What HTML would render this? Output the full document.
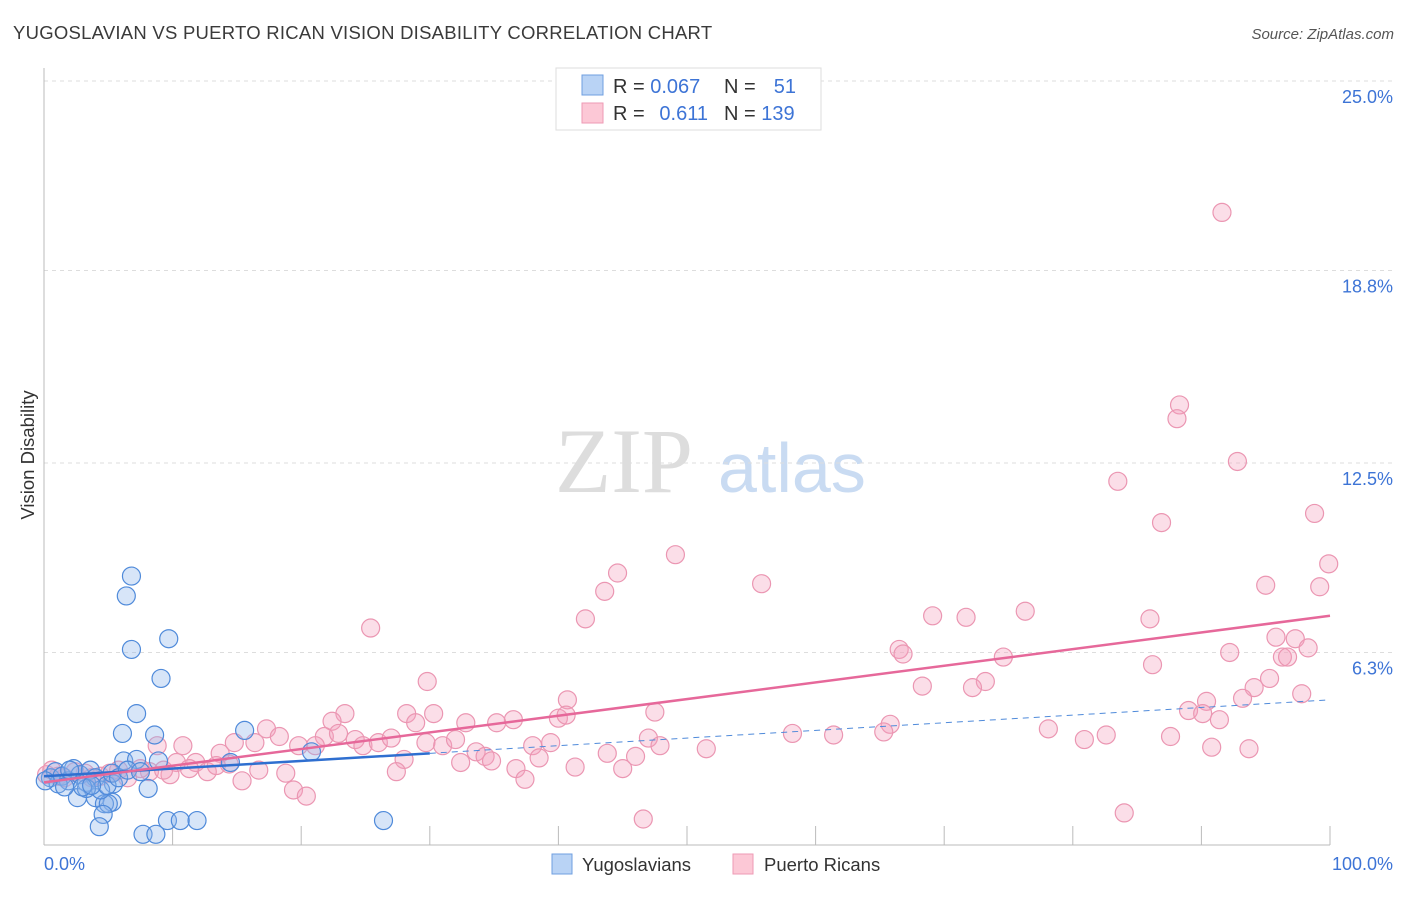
<!DOCTYPE html>
<html><head><meta charset="utf-8"><style>
body{margin:0;background:#fff;font-family:"Liberation Sans",sans-serif}
</style></head><body>
<svg id="chart" width="1406" height="892" xmlns="http://www.w3.org/2000/svg" font-family="Liberation Sans, sans-serif">
<text x="13" y="39" font-size="18.5" fill="#3a3a3a" letter-spacing="0.25">YUGOSLAVIAN VS PUERTO RICAN VISION DISABILITY CORRELATION CHART</text>
<text x="1394" y="39" font-size="15" fill="#555" font-style="italic" text-anchor="end">Source: ZipAtlas.com</text>
<text x="555" y="492" font-size="92" fill="#ddd" font-family="Liberation Serif, serif">ZIP</text>
<text x="718" y="492" font-size="70" fill="#c9dbf2">atlas</text>
<text transform="translate(34,455) rotate(-90)" font-size="18.5" fill="#333" text-anchor="middle">Vision Disability</text>
<g id="grid"></g><g id="pts"></g><g id="lines"></g>
<g>
<rect x="556" y="68" width="265" height="62" fill="#fff" stroke="#ddd"/>
<rect x="582" y="75" width="21" height="20" fill="#b9d3f5" stroke="#6f9fe0"/>
<rect x="582" y="103" width="21" height="20" fill="#fcc8d6" stroke="#ee9ab4"/>
<text x="613" y="93" font-size="20" fill="#333">R = <tspan fill="#3d74d6">0.067</tspan></text>
<text x="724" y="93" font-size="20" fill="#333">N = </text><text x="796" y="93" font-size="20" fill="#3d74d6" text-anchor="end">51</text>
<text x="613" y="120" font-size="20" fill="#333">R = </text><text x="708" y="120" font-size="20" fill="#3d74d6" text-anchor="end">0.611</text>
<text x="724" y="120" font-size="20" fill="#333">N = <tspan fill="#3d74d6">139</tspan></text>
</g>
<g>
<rect x="552" y="854" width="20" height="20" fill="#b9d3f5" stroke="#6f9fe0"/>
<text x="582" y="871" font-size="18.5" fill="#333">Yugoslavians</text>
<rect x="733" y="854" width="20" height="20" fill="#fcc8d6" stroke="#ee9ab4"/>
<text x="764" y="871" font-size="18.5" fill="#333">Puerto Ricans</text>
</g>
</svg>
<script>
const yTicks=[25,18.8,12.5,6.3];
const yTickLabels=["25.0%","18.8%","12.5%","6.3%"];
const xTicks=[0,10,20,30,40,50,60,70,80,90,100];
const blueX=[6.8,6.4,6.8,9.7,9.1,7.2,6.1,8.6,15.6,6.2,7.2,8.9,14.5,20.8,8.1,5.4,4.0,2.6,5.3,4.7,5.0,4.6,4.3,7.7,8.7,9.6,10.6,11.9,26.4,0.5,0.9,1.4,1.9,2.3,2.8,3.3,3.6,4.0,4.4,4.9,5.3,5.8,6.5,1.1,1.6,3.3,7.5,0.1,3.0,2.0,3.7];
const blueY=[8.8,8.15,6.4,6.75,5.45,4.3,3.65,3.6,3.75,2.75,2.8,2.75,2.7,3.05,1.85,2.0,1.55,1.55,1.4,1.35,1.35,1.0,0.6,0.35,0.35,0.8,0.8,0.8,0.8,2.2,2.4,2.25,2.1,2.5,2.3,2.05,2.45,2.2,1.8,1.95,2.35,2.2,2.45,2.0,1.9,1.85,2.4,2.1,1.9,2.45,1.95];
const pinkX=[91.6,88.3,88.1,92.8,83.5,86.9,98.8,99.9,49.1,44.6,43.6,55.8,95,99.2,42.1,69.1,71.7,76.3,86,95.8,97.3,98.3,92.2,96.3,96.7,66.5,66.8,74.6,86.2,25.4,29.8,73.2,95.3,68.3,72.2,94.1,40.7,90.4,93.2,97.8,89,90.1,91.4,47.5,23.4,28.2,30.3,40,40.6,22.4,28.9,32.8,36.5,35.2,17.3,65.8,65.3,78.1,82.6,80.9,87.6,58.2,61.4,18.3,21.8,22.9,24.2,24.8,26,27,19.8,21.1,16.4,14.8,13.7,8.8,10.8,29.7,31,32,33.6,34.3,38,39.4,47,47.9,51.5,43.8,46,90.8,93.7,28,32.4,34.8,36.7,38.5,41.3,45,27.4,37.4,15.4,18.8,16.7,19.4,20.4,46.6,84,10.3,11.8,12.7,11.3,9.8,8.2,6.5,4.4,3.2,1.6,0.6,0.2,5.1,7.5,9.3,14.4,13.4,2.4,3.7,5.8,1.1];
const pinkY=[20.7,14.4,13.95,12.55,11.9,10.55,10.85,9.2,9.5,8.9,8.3,8.55,8.5,8.45,7.4,7.5,7.45,7.65,7.4,6.8,6.75,6.45,6.3,6.15,6.15,6.4,6.25,6.15,5.9,7.1,5.35,5.35,5.45,5.2,5.15,5.15,4.75,4.7,4.8,4.95,4.4,4.3,4.1,4.35,4.3,4.3,4.3,4.15,4.25,4.05,4.0,4.0,4.1,4.0,3.8,3.95,3.7,3.8,3.6,3.45,3.55,3.65,3.6,3.55,3.55,3.65,3.45,3.25,3.35,3.5,3.25,3.25,3.35,3.35,3.0,3.25,3.25,3.35,3.25,3.45,3.05,2.9,3.25,3.35,3.5,3.25,3.15,3.0,2.9,3.2,3.15,2.8,2.7,2.75,2.5,2.85,2.55,2.5,2.4,2.15,2.1,2.35,2.45,1.8,1.6,0.85,1.05,2.7,2.7,2.4,2.5,2.3,2.4,2.2,2.25,2.35,2.2,2.45,2.3,2.35,2.5,2.45,2.65,2.6,2.4,2.2,2.45,2.25];
const blueTrend=[2.25,0.025];
const pinkTrend=[2.05,0.0545];
const X=v=>44+v*12.86, Y=v=>845-v*30.56;
const NS="http://www.w3.org/2000/svg";
function mk(tag,attrs,parent){const e=document.createElementNS(NS,tag);for(const k in attrs)e.setAttribute(k,attrs[k]);parent.appendChild(e);return e;}
const grid=document.getElementById('grid');
yTicks.forEach((t,i)=>{
 const l=mk('line',{x1:44,x2:1393,y1:Y(t),y2:Y(t),stroke:'#ddd','stroke-dasharray':'4,4'},grid);
 
 
 const tx=mk('text',{x:1393,y:Y(t)+22,'font-size':18,fill:'#3d74d6','text-anchor':'end'},grid);
 tx.textContent=yTickLabels[i];
 
 
});
const ax=mk('line',{x1:44,x2:44,y1:68,y2:845,stroke:'#bbb'},grid);


const bx=mk('line',{x1:44,x2:1330,y1:845,y2:845,stroke:'#bbb'},grid);


xTicks.forEach(t=>{
 const l=mk('line',{x1:X(t),x2:X(t),y1:826,y2:845,stroke:'#bbb'},grid);
 
 
});
const x0=mk('text',{x:44,y:870,'font-size':18,fill:'#3d74d6'},grid);x0.textContent='0.0%';


const x1=mk('text',{x:1393,y:870,'font-size':18,fill:'#3d74d6','text-anchor':'end'},grid);x1.textContent='100.0%';


const pts=document.getElementById('pts');
pinkX.forEach((x,i)=>{
 const c=mk('circle',{cx:X(x),cy:Y(pinkY[i]),r:9,fill:'rgba(244,160,188,0.35)',stroke:'#eb96b2','stroke-width':1.2},pts);
 
 
});
blueX.forEach((x,i)=>{
 const c=mk('circle',{cx:X(x),cy:Y(blueY[i]),r:9,fill:'rgba(140,180,235,0.35)',stroke:'#4f8ada','stroke-width':1.2},pts);
 
 
});
const lines=document.getElementById('lines');
const bl=mk('line',{x1:X(0),y1:Y(blueTrend[0]),x2:X(30),y2:Y(blueTrend[0]+30*blueTrend[1]),stroke:'#2f6fd0','stroke-width':2.5},lines);


const bd=mk('line',{x1:X(30),y1:Y(blueTrend[0]+30*blueTrend[1]),x2:X(100),y2:Y(blueTrend[0]+100*blueTrend[1]),stroke:'#4f8ada','stroke-width':1,'stroke-dasharray':'6,5'},lines);


const pl=mk('line',{x1:X(0),y1:Y(pinkTrend[0]),x2:X(100),y2:Y(pinkTrend[0]+100*pinkTrend[1]),stroke:'#e6689a','stroke-width':2.5},lines);


</script>
</body></html>
